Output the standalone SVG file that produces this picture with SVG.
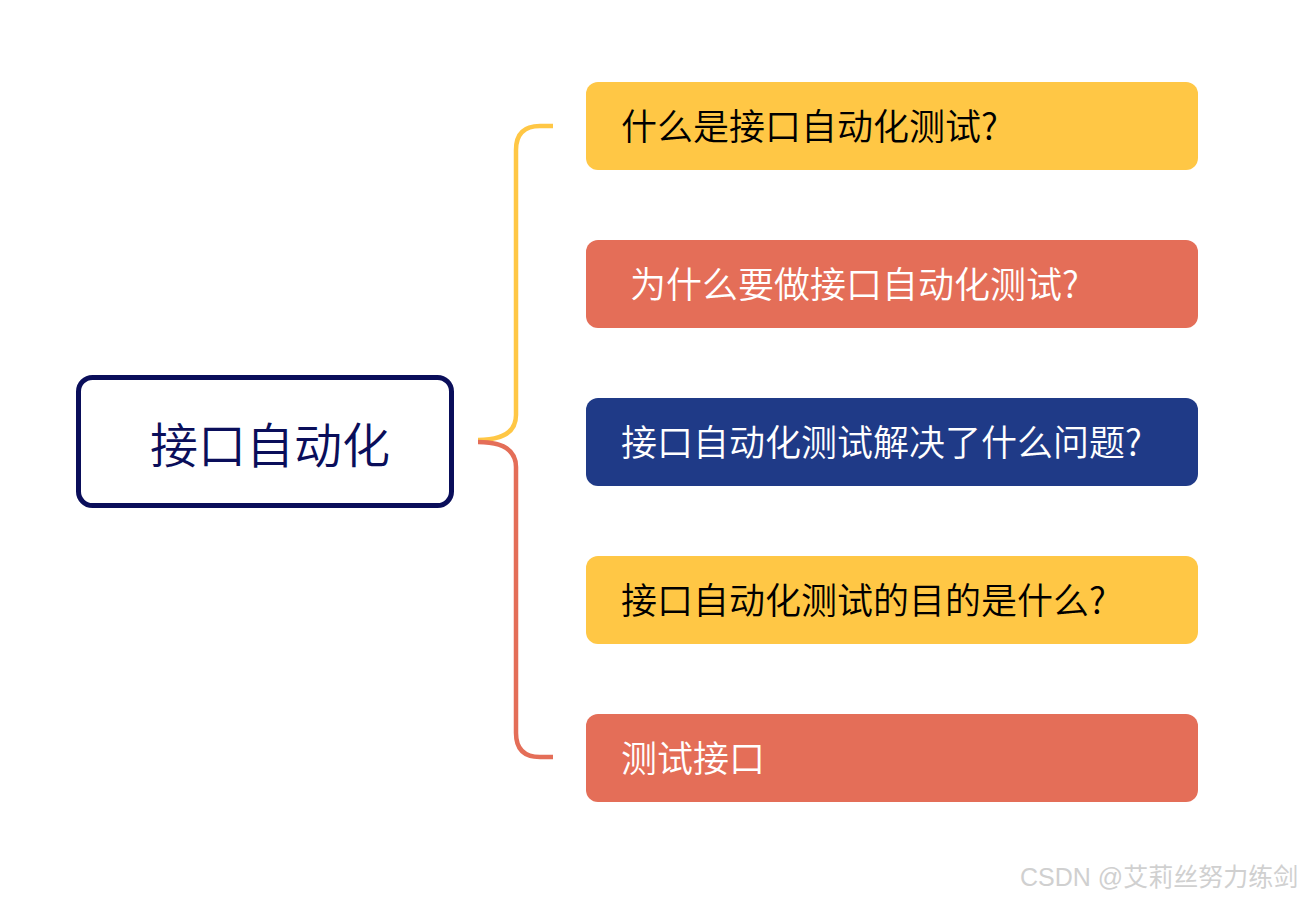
<svg xmlns="http://www.w3.org/2000/svg" width="1300" height="898" viewBox="0 0 1300 898">
<style>
.t{font-family:"Noto Sans CJK SC","Microsoft YaHei",sans-serif;font-size:36px;font-weight:350}
.dark{fill:#000}
.light{fill:#fff}
.yel{fill:#FFC745}
.red{fill:#E46E58}
.blue{fill:#1F3A87}
.conn{fill:none;stroke-width:4.5;stroke-linecap:butt}
</style>
<rect width="1300" height="898" fill="#fff"/>
<g id="connectors">
<path class="conn" stroke="#FFC745" d="M553,126 H540 Q516,126 516,150 V415 Q516,440 478,440"/>
<path class="conn" stroke="#E46E58" d="M478,442 Q516,442 516,467 V733 Q516,757 540,757 H553"/>
</g>
<g id="root">
<rect x="78.5" y="377.5" width="373" height="128" rx="14" fill="#fff" stroke="#0A0E5A" stroke-width="5"/>
<text x="150" y="463" style="font-family:'Noto Sans CJK SC',sans-serif;font-size:48px;font-weight:350" fill="#0A0E5A">接口自动化</text>
</g>
<g id="n1">
<rect class="yel" x="586" y="82" width="612" height="88" rx="12"/>
<text class="t dark" x="621" y="140">什么是接口自动化测试?</text>
</g>
<g id="n2">
<rect class="red" x="586" y="240" width="612" height="88" rx="12"/>
<text class="t light" x="630" y="298">为什么要做接口自动化测试?</text>
</g>
<g id="n3">
<rect class="blue" x="586" y="398" width="612" height="88" rx="12"/>
<text class="t light" x="621" y="456">接口自动化测试解决了什么问题?</text>
</g>
<g id="n4">
<rect class="yel" x="586" y="556" width="612" height="88" rx="12"/>
<text class="t dark" x="621" y="614">接口自动化测试的目的是什么?</text>
</g>
<g id="n5">
<rect class="red" x="586" y="714" width="612" height="88" rx="12"/>
<text class="t light" x="621" y="772">测试接口</text>
</g>
<text x="1020" y="886" style="font-family:'Liberation Sans','Noto Sans CJK SC',sans-serif;font-size:25px" fill="#D0D0D0">CSDN @艾莉丝努力练剑</text>
</svg>
